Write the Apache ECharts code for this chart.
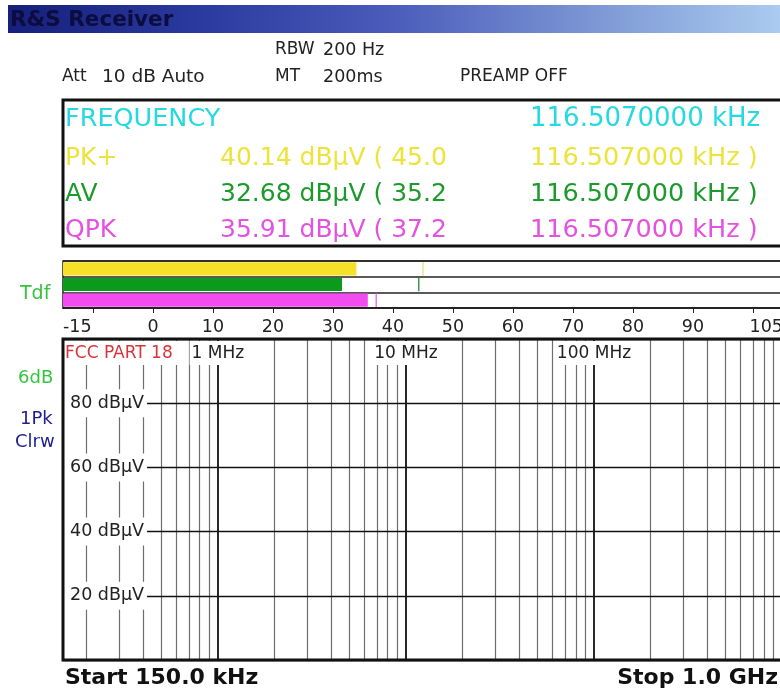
<!DOCTYPE html>
<html>
<head>
<meta charset="utf-8">
<title>R&amp;S Receiver</title>
<script src="https://cdn.jsdelivr.net/npm/echarts@6.0.0/dist/echarts.min.js"></script>
<style>
  html, body { margin: 0; padding: 0; background: #fff; }
  #main { width: 780px; height: 693px; }
</style>
</head>
<body>
<div id="main"></div>
<script>
// detector bar graph, dBµV
const detectors = ['PK+', 'AV', 'QPK']
const detectorLevels = [33.9, 31.5, 35.8]
const detectorMaxHold = [45.0, 44.3, 37.2]
const barScaleMin = -15
const barScaleMax = 105
const barTicks = [-10, 0, 10, 20, 30, 40, 50, 60, 70, 80, 90, 100]
const barTickLabels = [-15, 0, 10, 20, 30, 40, 50, 60, 70, 80, 90, 105]

// marker readout
const readoutFrequency = '116.5070000 kHz'
const readoutLevels = ['40.14 dBµV ( 45.0', '32.68 dBµV ( 35.2', '35.91 dBµV ( 37.2']
const readoutFreqs = ['116.507000 kHz )', '116.507000 kHz )', '116.507000 kHz )']

// sweep diagram (log frequency)
const startFreq = 150e3
const stopFreq = 1e9
const levelMin = 0
const levelMax = 100
const levelStep = 20
const decadeFreqs = [1e6, 1e7, 1e8]
const decadeLabels = ['1 MHz', '10 MHz', '100 MHz']
const minorFreqs = [
  2e5, 3e5, 4e5, 5e5, 6e5, 7e5, 8e5, 9e5,
  2e6, 3e6, 4e6, 5e6, 6e6, 7e6, 8e6, 9e6,
  2e7, 3e7, 4e7, 5e7, 6e7, 7e7, 8e7, 9e7,
  2e8, 3e8, 4e8, 5e8, 6e8, 7e8, 8e8, 9e8
]
const limitLineName = 'FCC PART 18'

const barColors = ['#f7e028', '#0b9a1c', '#f24cf0']
const markerColors = ['#efe07a', '#1f8a2a', '#e065e0']
const textColors = ['#ece33c', '#1d9a2c', '#e352e0']
const cyan = '#25d9e0'
const font = '"DejaVu Sans", Verdana, sans-serif'

const chart = echarts.init(document.getElementById('main'))

function renderLevelBar(params, api) {
  const row = api.value(1)
  const start = api.coord([barScaleMin, row])
  const end = api.coord([api.value(0), row])
  const h = api.size([0, 1])[1] * 0.84
  return {
    type: 'rect',
    shape: {x: start[0], y: start[1] - h / 2, width: end[0] - start[0], height: h},
    style: {fill: barColors[row]}
  }
}

function renderMaxHold(params, api) {
  const row = api.value(1)
  const p = api.coord([api.value(0), row])
  const h = api.size([0, 1])[1]
  return {
    type: 'line',
    shape: {x1: p[0], y1: p[1] - h / 2 + 1, x2: p[0], y2: p[1] + h / 2 - 1},
    style: {stroke: markerColors[row], lineWidth: 1.3}
  }
}

function txt(text, x, y, fill, size, weight, align) {
  return {
    type: 'text', x, y, silent: true,
    style: {
      text, fill, font: (weight || 'normal') + ' ' + size + 'px ' + font,
      verticalAlign: 'middle', align: align || 'left'
    }
  }
}

const rowY = [158, 194, 230]
const graphics = [
  // title bar
  {
    type: 'rect', shape: {x: 8, y: 5, width: 772, height: 28}, silent: true,
    style: {
      fill: {
        type: 'linear', x: 0, y: 0, x2: 1, y2: 0,
        colorStops: [
          {offset: 0, color: '#16207c'},
          {offset: 0.25, color: '#2a3a9e'},
          {offset: 0.5, color: '#4b5cbb'},
          {offset: 0.75, color: '#7a95d3'},
          {offset: 1, color: '#abcbef'}
        ]
      }
    }
  },
  txt('R&S Receiver', 10, 20, '#0c0c3e', 21.5, 'bold'),
  // settings
  txt('RBW', 275, 50, '#222', 17),
  txt('200 Hz', 323, 50, '#222', 17.5),
  txt('Att', 62, 77, '#222', 17),
  txt('10 dB Auto', 102, 77, '#222', 18.5),
  txt('MT', 275, 77, '#222', 17),
  txt('200ms', 323, 77, '#222', 17.5),
  txt('PREAMP OFF', 460, 77, '#222', 17),
  // readout box
  {
    type: 'rect', shape: {x: 63, y: 100, width: 730, height: 146}, silent: true,
    style: {fill: 'none', stroke: '#111', lineWidth: 3}
  },
  txt('FREQUENCY', 65, 119, cyan, 25.5),
  txt(readoutFrequency, 530, 119, cyan, 26),
  // side annotations
  txt('Tdf', 20, 294, '#35c43f', 19),
  txt('6dB', 18, 378, '#35c43f', 18),
  txt('1Pk', 20, 419, '#1d1d8e', 18),
  txt('Clrw', 15, 442, '#1d1d8e', 18),
  // sweep span
  txt('Start 150.0 kHz', 65, 678, '#111', 22, 'bold'),
  txt('Stop 1.0 GHz', 778, 678, '#111', 22, 'bold', 'right')
]
detectors.forEach((d, i) => {
  graphics.push(txt(d, 65, rowY[i], textColors[i], 25))
  graphics.push(txt(readoutLevels[i], 220, rowY[i], textColors[i], 25))
  graphics.push(txt(readoutFreqs[i], 530, rowY[i], textColors[i], 25.5))
})

const gridLines = minorFreqs.map(f => ({xAxis: f}))
  .concat(decadeFreqs.map(f => ({xAxis: f, lineStyle: {color: '#111', width: 1.8, type: 'solid'}})))

chart.setOption({
  animation: false,
  textStyle: {fontFamily: font},
  graphic: {elements: graphics},
  grid: [
    {left: 63, right: -3, top: 261, height: 47, outerBoundsMode: 'none',
      show: true, borderColor: '#222', borderWidth: 1.5},
    {left: 63, right: -2, top: 339, bottom: 33, outerBoundsMode: 'none',
      show: true, borderColor: '#111', borderWidth: 3, z: 8}
  ],
  xAxis: [
    {
      gridIndex: 0, type: 'value', min: barScaleMin, max: barScaleMax,
      axisLine: {show: true, lineStyle: {color: '#222', width: 1.5}},
      axisTick: {show: true, customValues: barTicks, length: 5, lineStyle: {color: '#222'}},
      axisLabel: {
        customValues: barTickLabels, margin: 10, fontSize: 17.5, color: '#222',
        alignMinLabel: 'left', alignMaxLabel: 'right'
      },
      splitLine: {show: false}
    },
    {
      gridIndex: 1, type: 'log', logBase: 10, min: startFreq, max: stopFreq,
      position: 'top', z: 6,
      axisLine: {show: false},
      axisTick: {show: false},
      splitLine: {show: false},
      axisLabel: {
        inside: true, margin: 2, fontSize: 17, color: '#222',
        backgroundColor: '#fff', padding: [4, 2, 3, 2],
        alignMinLabel: 'left', alignMaxLabel: 'right',
        showMinLabel: true, showMaxLabel: true,
        formatter: v => {
          if (Math.abs(v - startFreq) < 1) return '{fcc|' + limitLineName + '}'
          const k = decadeFreqs.findIndex(f => Math.abs(v - f) < 1)
          return k >= 0 ? decadeLabels[k] : ''
        },
        rich: {fcc: {color: '#d8343a', fontSize: 17, padding: [0, 3, 0, 0]}}
      }
    }
  ],
  yAxis: [
    {
      gridIndex: 0, type: 'category', inverse: true, data: detectors,
      axisLine: {show: false}, axisTick: {show: false}, axisLabel: {show: false},
      splitLine: {show: true, lineStyle: {color: '#222', width: 1.5}}
    },
    {
      gridIndex: 1, type: 'value', min: levelMin, max: levelMax, interval: levelStep, z: 6,
      axisLine: {show: false}, axisTick: {show: false},
      splitLine: {show: true, lineStyle: {color: '#111', width: 1.3}},
      axisLabel: {
        inside: true, margin: 1, fontSize: 17.5, color: '#222',
        backgroundColor: '#fff', padding: [5, 3, 5, 6],
        showMinLabel: false, showMaxLabel: false,
        formatter: v => v + ' dBµV'
      }
    }
  ],
  series: [
    {
      type: 'custom', xAxisIndex: 0, yAxisIndex: 0, silent: true,
      renderItem: renderLevelBar,
      data: detectorLevels.map((v, i) => [v, i])
    },
    {
      type: 'custom', xAxisIndex: 0, yAxisIndex: 0, silent: true,
      renderItem: renderMaxHold,
      data: detectorMaxHold.map((v, i) => [v, i])
    },
    {
      type: 'line', xAxisIndex: 1, yAxisIndex: 1, data: [], silent: true, z: 1,
      markLine: {
        silent: true, symbol: 'none', label: {show: false}, z: 1,
        lineStyle: {color: '#6e6e6e', width: 1.2, type: 'solid'},
        data: gridLines
      }
    }
  ]
})
</script>
</body>
</html>
